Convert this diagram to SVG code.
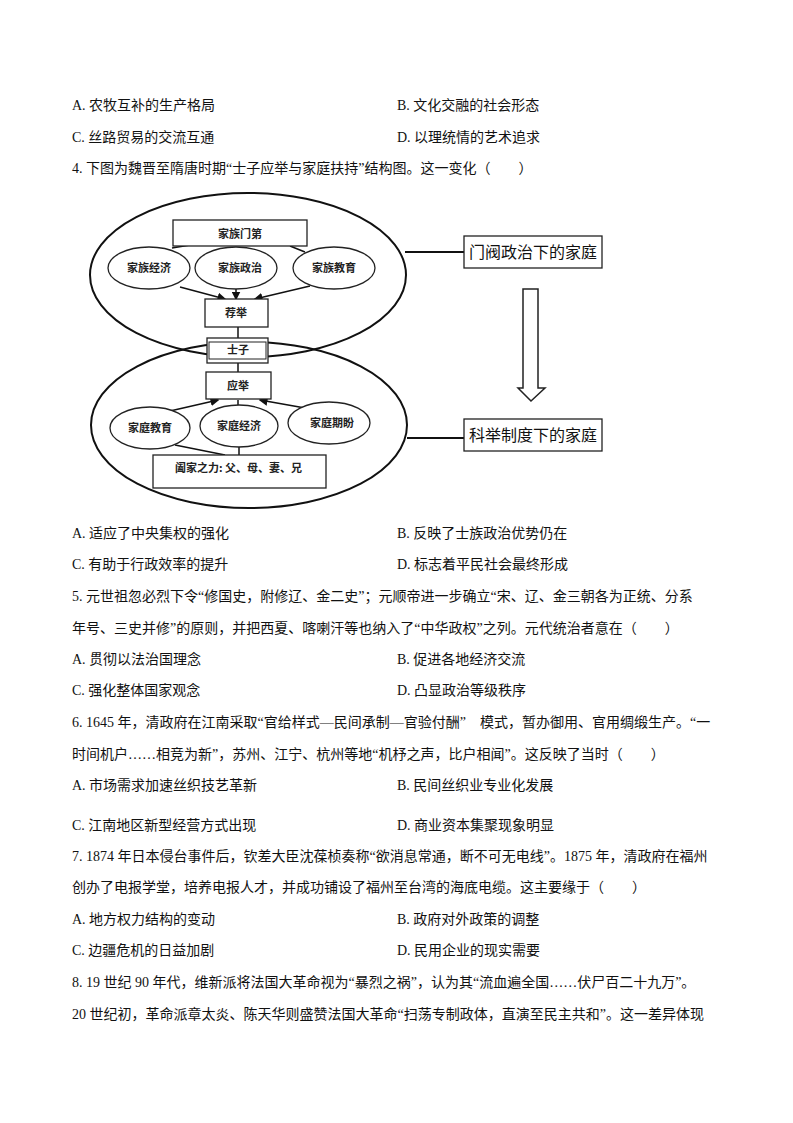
<svg xmlns="http://www.w3.org/2000/svg" width="793" height="1123" viewBox="0 0 793 1123">
<style>
.t{font-family:"Liberation Serif","Noto Sans CJK SC",serif;font-size:14px;fill:#111}
.d{font-family:"Noto Sans CJK SC",sans-serif;font-size:11px;font-weight:bold;fill:#222;text-anchor:middle}
.r{font-family:"Liberation Serif","Noto Sans CJK SC",serif;font-size:16px;fill:#111;text-anchor:middle}
.s{fill:none;stroke:#111;stroke-width:2}
.b{fill:#fff;stroke:#222;stroke-width:1.3}
</style>
<defs><marker id="a" markerWidth="6" markerHeight="6" refX="5" refY="3" orient="auto"><path d="M0,0L6,3L0,6z" fill="#111"/></marker></defs>
<rect width="793" height="1123" fill="#fff"/>
<g class="t">
<text x="72" y="110">A. 农牧互补的生产格局</text><text x="397" y="110">B. 文化交融的社会形态</text>
<text x="72" y="142">C. 丝路贸易的交流互通</text><text x="397" y="142">D. 以理统情的艺术追求</text>
<text x="72" y="173">4. 下图为魏晋至隋唐时期“士子应举与家庭扶持”结构图。这一变化（　　）</text>
<text x="72" y="538">A. 适应了中央集权的强化</text><text x="397" y="538">B. 反映了士族政治优势仍在</text>
<text x="72" y="569">C. 有助于行政效率的提升</text><text x="397" y="569">D. 标志着平民社会最终形成</text>
<text x="72" y="601">5. 元世祖忽必烈下令“修国史，附修辽、金二史”；元顺帝进一步确立“宋、辽、金三朝各为正统、分系</text>
<text x="72" y="633">年号、三史并修”的原则，并把西夏、喀喇汗等也纳入了“中华政权”之列。元代统治者意在（　　）</text>
<text x="72" y="664">A. 贯彻以法治国理念</text><text x="397" y="664">B. 促进各地经济交流</text>
<text x="72" y="695">C. 强化整体国家观念</text><text x="397" y="695">D. 凸显政治等级秩序</text>
<text x="72" y="727">6. 1645 年，清政府在江南采取“官给样式—民间承制—官验付酬”　模式，暂办御用、官用绸缎生产。“一</text>
<text x="72" y="759">时间机户……相竞为新”，苏州、江宁、杭州等地“机杼之声，比户相闻”。这反映了当时（　　）</text>
<text x="72" y="790">A. 市场需求加速丝织技艺革新</text><text x="397" y="790">B. 民间丝织业专业化发展</text>
<text x="72" y="830">C. 江南地区新型经营方式出现</text><text x="397" y="830">D. 商业资本集聚现象明显</text>
<text x="72" y="861">7. 1874 年日本侵台事件后，钦差大臣沈葆桢奏称“欲消息常通，断不可无电线”。1875 年，清政府在福州</text>
<text x="72" y="892">创办了电报学堂，培养电报人才，并成功铺设了福州至台湾的海底电缆。这主要缘于（　　）</text>
<text x="72" y="924">A. 地方权力结构的变动</text><text x="397" y="924">B. 政府对外政策的调整</text>
<text x="72" y="955">C. 边疆危机的日益加剧</text><text x="397" y="955">D. 民用企业的现实需要</text>
<text x="72" y="987">8. 19 世纪 90 年代，维新派将法国大革命视为“暴烈之祸”，认为其“流血遍全国……伏尸百二十九万”。</text>
<text x="72" y="1019">20 世纪初，革命派章太炎、陈天华则盛赞法国大革命“扫荡专制政体，直演至民主共和”。这一差异体现</text>
</g>
<g id="connectors" class="s">
<line x1="405" y1="252" x2="464" y2="252"/>
<line x1="407" y1="438" x2="464" y2="438"/>
<line x1="172" y1="248" x2="190" y2="245" stroke-width="1.5"/>
<line x1="290" y1="246" x2="305" y2="252" stroke-width="1.5"/>
<line x1="180" y1="287" x2="225" y2="299" stroke-width="1.5" marker-end="url(#a)"/>
<line x1="236" y1="288" x2="236" y2="299" stroke-width="1.5" marker-end="url(#a)"/>
<line x1="310" y1="286" x2="255" y2="299" stroke-width="1.5" marker-end="url(#a)"/>
<line x1="238" y1="327" x2="238" y2="338" stroke-width="1.5"/>
<line x1="238" y1="363" x2="238" y2="372" stroke-width="1.5"/>
<line x1="170" y1="411" x2="218" y2="400" stroke-width="1.5" marker-end="url(#a)"/>
<line x1="238" y1="405" x2="238" y2="400" stroke-width="1.5"/>
<line x1="305" y1="408" x2="260" y2="400" stroke-width="1.5" marker-end="url(#a)"/>
<line x1="175" y1="445" x2="225" y2="455" stroke-width="1.5"/>
<line x1="239" y1="447" x2="239" y2="455" stroke-width="1.5"/>
</g>
<ellipse cx="248" cy="275" rx="158" ry="82" class="s"/>
<ellipse cx="249" cy="425" rx="158" ry="83" class="s"/>
<g id="n1"><rect x="173" y="220" width="134" height="26" class="b"/><text x="240" y="238" class="d">家族门第</text></g>
<g id="n2"><ellipse cx="149" cy="268" rx="41" ry="21" class="b"/><text x="149" y="272" class="d">家族经济</text></g>
<g id="n3"><ellipse cx="236" cy="268" rx="41" ry="21" class="b"/><text x="240" y="272" class="d">家族政治</text></g>
<g id="n4"><ellipse cx="334" cy="268" rx="41" ry="21" class="b"/><text x="334" y="272" class="d">家族教育</text></g>
<g id="n5"><rect x="205" y="299" width="63" height="28" class="b"/><text x="236" y="317" class="d">荐举</text></g>
<g id="n6"><rect x="207" y="338" width="61" height="25" class="b"/><rect x="209" y="342" width="57" height="17" fill="none" stroke="#222"/><text x="238" y="354" class="d" font-size="9">士子</text></g>
<g id="n7"><rect x="206" y="372" width="65" height="27" class="b"/><text x="238" y="390" class="d">应举</text></g>
<g id="n8"><ellipse cx="150" cy="428" rx="40" ry="21" class="b"/><text x="150" y="432" class="d">家庭教育</text></g>
<g id="n9"><ellipse cx="239" cy="426" rx="39" ry="21" class="b"/><text x="239" y="430" class="d">家庭经济</text></g>
<g id="n10"><ellipse cx="329" cy="423" rx="41" ry="21" class="b"/><text x="332" y="427" class="d">家庭期盼</text></g>
<g id="n11"><rect x="153" y="455" width="173" height="33" class="b"/><text x="175" y="472" class="d" style="text-anchor:start">阖家之力: 父、母、妻、兄</text></g>
<g id="n12"><rect x="464" y="236" width="138" height="32" class="b" stroke-width="2"/><text x="533" y="258" class="r">门阀政治下的家庭</text></g>
<g id="n13"><rect x="464" y="419" width="138" height="32" class="b" stroke-width="2"/><text x="533" y="441" class="r">科举制度下的家庭</text></g>
<g id="n14"><path d="M523,289H538V388H545L531,401L518,388H523Z" fill="#fff" stroke="#222" stroke-width="1.5"/></g>
</svg>
